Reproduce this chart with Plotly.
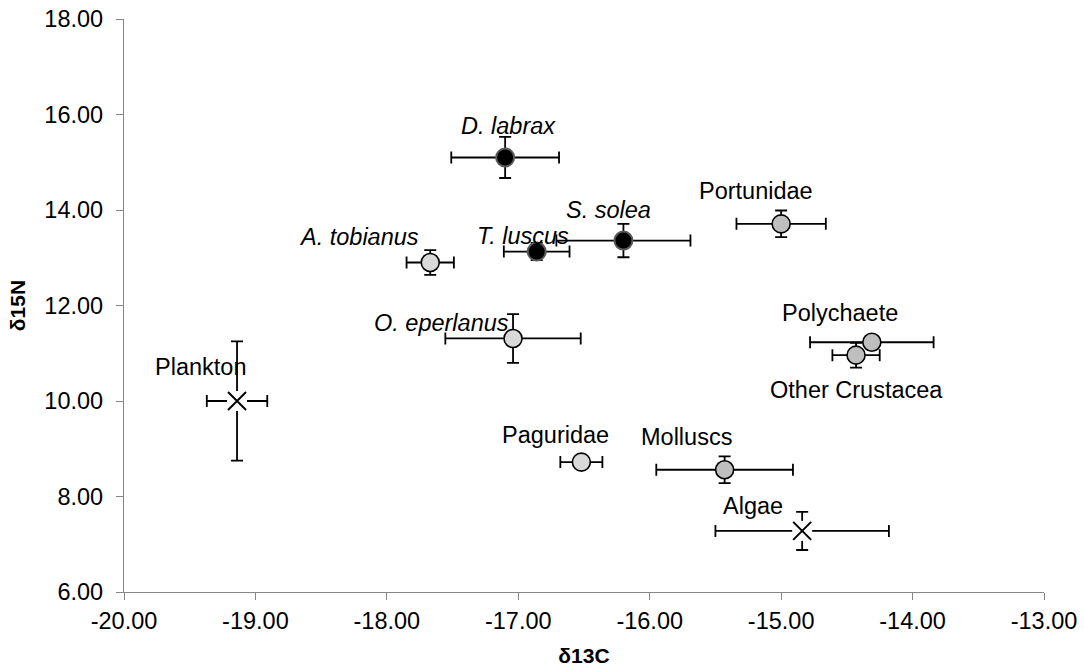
import plotly.graph_objects as go

# ---- data ----
names = ["Plankton", "Algae", "D. labrax", "T. luscus", "S. solea",
         "A. tobianus", "O. eperlanus", "Paguridae", "Portunidae",
         "Molluscs", "Other Crustacea", "Polychaete"]
groups = ["source", "source", "fish_dark", "fish_dark", "fish_dark",
          "fish_light", "fish_light", "fish_light", "invert",
          "invert", "invert", "invert"]
d13C = [-19.14, -14.84, -17.10, -16.86, -16.20,
        -17.67, -17.04, -16.52, -15.00,
        -15.43, -14.43, -14.31]
d15N = [10.00, 7.28, 15.10, 13.13, 13.36,
        12.90, 11.31, 8.72, 13.71,
        8.56, 10.96, 11.23]
sd13C = [0.23, 0.66, 0.41, 0.25, 0.51,
         0.18, 0.515, 0.16, 0.34,
         0.52, 0.18, 0.47]
sd15N = [1.25, 0.40, 0.43, 0.18, 0.35,
         0.26, 0.51, 0.10, 0.28,
         0.28, 0.26, 0.13]
italic_names = ["D. labrax", "T. luscus", "S. solea", "A. tobianus", "O. eperlanus"]

x_tickvals = [-20, -19, -18, -17, -16, -15, -14, -13]
x_ticktext = ["-20.00", "-19.00", "-18.00", "-17.00", "-16.00", "-15.00", "-14.00", "-13.00"]
y_tickvals = [6, 8, 10, 12, 14, 16, 18]
y_ticktext = ["6.00", "8.00", "10.00", "12.00", "14.00", "16.00", "18.00"]

# ---- styles ----
FONT = "Liberation Sans, Arial, sans-serif"
AXIS_COLOR = "#868686"
FS = 23.5
styles = {
    "fish_dark": dict(color="#000000", line=dict(color="#5a5a5a", width=2)),
    "fish_light": dict(color="#d9d9d9", line=dict(color="#000000", width=1.6)),
    "invert": dict(color="#bfbfbf", line=dict(color="#000000", width=1.6)),
}
label_offsets = {
    "Plankton": (-37, -34), "Algae": (-49, -25), "D. labrax": (3, -31),
    "T. luscus": (-14, -16), "S. solea": (-15, -31), "A. tobianus": (-71, -26),
    "O. eperlanus": (-72, -15), "Paguridae": (-26, -27), "Portunidae": (-25, -33),
    "Molluscs": (-38, -33), "Other Crustacea": (0, 35), "Polychaete": (-32, -29),
}

fig = go.Figure()

def err(arr):
    return dict(type="data", array=arr, visible=True, color="#000000",
                thickness=1.8, width=6)

# sources: white mask under X marker, error bars beneath
idx = [i for i, g in enumerate(groups) if g == "source"]
fig.add_trace(go.Scatter(
    x=[d13C[i] for i in idx], y=[d15N[i] for i in idx], mode="markers",
    marker=dict(symbol="square", size=20, color="#ffffff", line=dict(width=0)),
    error_x=err([sd13C[i] for i in idx]), error_y=err([sd15N[i] for i in idx]),
    showlegend=False, hoverinfo="skip"))
fig.add_trace(go.Scatter(
    x=[d13C[i] for i in idx], y=[d15N[i] for i in idx], mode="markers",
    marker=dict(symbol="x-thin", size=18, line=dict(color="#000000", width=2)),
    showlegend=False, text=[names[i] for i in idx]))

# other points, one trace per point to keep drawing order
for i, g in enumerate(groups):
    if g == "source":
        continue
    fig.add_trace(go.Scatter(
        x=[d13C[i]], y=[d15N[i]], mode="markers",
        marker=dict(symbol="circle", size=18, **styles[g]),
        error_x=err([sd13C[i]]), error_y=err([sd15N[i]]),
        showlegend=False, name=names[i]))

# labels
for i, n in enumerate(names):
    dx, dy = label_offsets[n]
    txt = f"<i>{n}</i>" if n in italic_names else n
    fig.add_annotation(x=d13C[i], y=d15N[i], text=txt, showarrow=False,
                       xshift=dx, yshift=-dy, xanchor="center", yanchor="middle",
                       font=dict(family=FONT, size=FS, color="#000000"))

fig.update_layout(
    width=1084, height=671,
    margin=dict(l=124, r=40, t=19, b=79),
    plot_bgcolor="#ffffff", paper_bgcolor="#ffffff",
    font=dict(family=FONT, size=FS, color="#000000"),
    xaxis=dict(range=[-20, -13], tickvals=x_tickvals, ticktext=x_ticktext,
               automargin=False,
               showgrid=False, zeroline=False, showline=True, linecolor=AXIS_COLOR,
               linewidth=1.3, ticks="outside", ticklen=7, tickcolor=AXIS_COLOR,
               tickwidth=1.3, tickfont=dict(family=FONT, size=FS, color="#000000"),
               ticklabelstandoff=1,
               title=dict(text="<b>δ13C</b>", font=dict(family=FONT, size=21),
                          standoff=14)),
    yaxis=dict(range=[6, 18], tickvals=y_tickvals, ticktext=y_ticktext,
               automargin=False,
               showgrid=False, zeroline=False, showline=True, linecolor=AXIS_COLOR,
               linewidth=1.3, ticks="outside", ticklen=7, tickcolor=AXIS_COLOR,
               tickwidth=1.3, tickfont=dict(family=FONT, size=FS, color="#000000"),
               ticklabelstandoff=8,
               title=dict(text="<b>δ15N</b>", font=dict(family=FONT, size=21),
                          standoff=12)),
)

fig.write_html("out.html")
